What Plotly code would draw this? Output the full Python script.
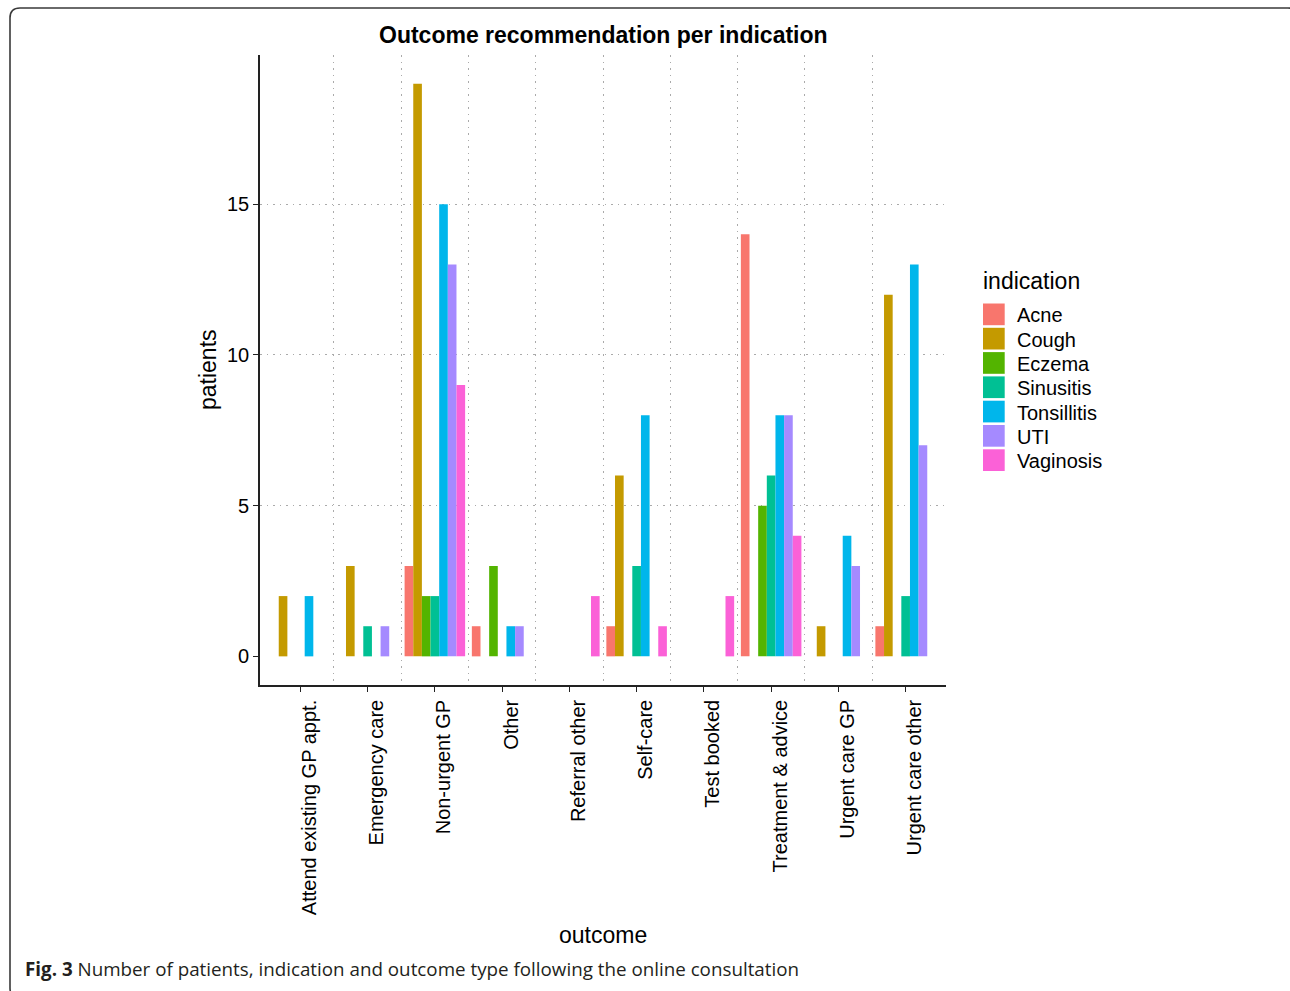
import plotly.graph_objects as go

# Outcome categories (x axis) and indications (dodged bar series)
outcomes = ["Attend existing GP appt.", "Emergency care", "Non-urgent GP", "Other",
            "Referral other", "Self-care", "Test booked", "Treatment & advice",
            "Urgent care GP", "Urgent care other"]
indications = ["Acne", "Cough", "Eczema", "Sinusitis", "Tonsillitis", "UTI", "Vaginosis"]
colors = ["#F8766D", "#C49A00", "#53B400", "#00C094", "#00B6EB", "#A58AFF", "#FB61D7"]

# patient counts per outcome, one list per indication
acne = [0, 0, 3, 1, 0, 1, 0, 14, 0, 1]
cough = [2, 3, 19, 0, 0, 6, 0, 0, 1, 12]
eczema = [0, 0, 2, 3, 0, 0, 0, 5, 0, 0]
sinusitis = [0, 1, 2, 0, 0, 3, 0, 6, 0, 2]
tonsillitis = [2, 0, 15, 1, 0, 8, 0, 8, 4, 13]
uti = [0, 1, 13, 1, 0, 0, 0, 8, 3, 7]
vaginosis = [0, 0, 9, 0, 2, 1, 2, 4, 0, 0]
counts = [acne, cough, eczema, sinusitis, tonsillitis, uti, vaginosis]

y_ticks = [0, 5, 10, 15]

W, H = 1290, 991
L, R, T, B = 260, 946, 55, 685  # plot panel in pixels


def px(x):
    return (x - L) / (R - L)


def py(y):
    return (B - y) / (B - T)


FONT = "Liberation Sans, Arial, sans-serif"
pos = list(range(len(outcomes)))

fig = go.Figure()
for name, vals, col in zip(indications, counts, colors):
    fig.add_trace(go.Bar(x=pos, y=vals, name=name, marker=dict(color=col, line=dict(width=0)),
                         showlegend=False))

fig.update_layout(
    width=W, height=H,
    margin=dict(l=L, r=W - R, t=T, b=H - B, autoexpand=False),
    paper_bgcolor="white", plot_bgcolor="white",
    barmode="group", bargap=0.1, bargroupgap=0,
    font=dict(family=FONT, color="black"),
)

fig.update_xaxes(
    range=[-0.6, len(outcomes) - 0.4],
    tickmode="array", tickvals=pos, ticktext=outcomes, tickangle=-90,
    tickfont=dict(size=20, color="black"), ticklabelshift=9,
    ticks="outside", ticklen=5, tickwidth=1.3, tickcolor="#222",
    showline=True, linecolor="#222", linewidth=1.6,
    showgrid=False, zeroline=False,
    minor=dict(tickvals=[p + 0.5 for p in pos[:-1]], showgrid=True, ticks="",
               gridcolor="#aaaaaa", gridwidth=1, griddash="1.5px,5px"),
)
fig.update_yaxes(
    range=[-0.95, 19.95],
    tickmode="array", tickvals=y_ticks, ticktext=[str(v) for v in y_ticks],
    tickfont=dict(size=20, color="black"),
    ticks="outside", ticklen=5, tickwidth=1.3, tickcolor="#222",
    showline=True, linecolor="#222", linewidth=1.6,
    showgrid=False, zeroline=False,
    minor=dict(tickvals=y_ticks[1:], showgrid=True, ticks="",
               gridcolor="#aaaaaa", gridwidth=1, griddash="1.5px,5px"),
)

ann = []
shapes = []
# title and axis titles
ann.append(dict(text="<b>Outcome recommendation per indication</b>", x=px(603), y=py(35),
                xref="paper", yref="paper", xanchor="center", yanchor="middle",
                showarrow=False, font=dict(size=23, family=FONT, color="black")))
ann.append(dict(text="patients", x=px(208), y=py(370), textangle=-90,
                xref="paper", yref="paper", xanchor="center", yanchor="middle",
                showarrow=False, font=dict(size=23, family=FONT, color="black")))
ann.append(dict(text="outcome", x=px(603), y=py(935),
                xref="paper", yref="paper", xanchor="center", yanchor="middle",
                showarrow=False, font=dict(size=23, family=FONT, color="black")))

# legend
ann.append(dict(text="indication", x=px(981), y=py(281),
                xref="paper", yref="paper", xanchor="left", yanchor="middle",
                showarrow=False, font=dict(size=23, family=FONT, color="black")))
key_top, key_step, key_size = 303.5, 24.3, 21.7
for i, (name, col) in enumerate(zip(indications, colors)):
    y0 = key_top + i * key_step
    shapes.append(dict(type="rect", xref="paper", yref="paper",
                       x0=px(983), x1=px(983 + key_size), y0=py(y0), y1=py(y0 + key_size),
                       fillcolor=col, line=dict(width=0), layer="above"))
    ann.append(dict(text=name, x=px(1015), y=py(y0 + key_size / 2 + 1),
                    xref="paper", yref="paper", xanchor="left", yanchor="middle",
                    showarrow=False, font=dict(size=20, family=FONT, color="black")))

# caption
ann.append(dict(text="<b>Fig. 3</b> Number of patients, indication and outcome type following the online consultation",
                x=px(23), y=py(969), xref="paper", yref="paper", xanchor="left", yanchor="middle",
                showarrow=False, font=dict(size=18.8, family="Open Sans, sans-serif", color="#231f20")))

# rounded frame around the figure (right and bottom edges run past the page)
fx0, fy0, fx1, fy1, rad = 10, 8, 1298, 998, 10
path = (f"M {px(fx0)},{py(fy0 + rad)} "
        f"Q {px(fx0)},{py(fy0)} {px(fx0 + rad)},{py(fy0)} "
        f"L {px(fx1 - rad)},{py(fy0)} "
        f"Q {px(fx1)},{py(fy0)} {px(fx1)},{py(fy0 + rad)} "
        f"L {px(fx1)},{py(fy1 - rad)} "
        f"Q {px(fx1)},{py(fy1)} {px(fx1 - rad)},{py(fy1)} "
        f"L {px(fx0 + rad)},{py(fy1)} "
        f"Q {px(fx0)},{py(fy1)} {px(fx0)},{py(fy1 - rad)} Z")
shapes.append(dict(type="path", path=path, xref="paper", yref="paper",
                   line=dict(color="#3a3a3a", width=1.6), fillcolor="rgba(0,0,0,0)", layer="below"))

fig.update_layout(annotations=ann, shapes=shapes)

fig.write_html("out.html")
